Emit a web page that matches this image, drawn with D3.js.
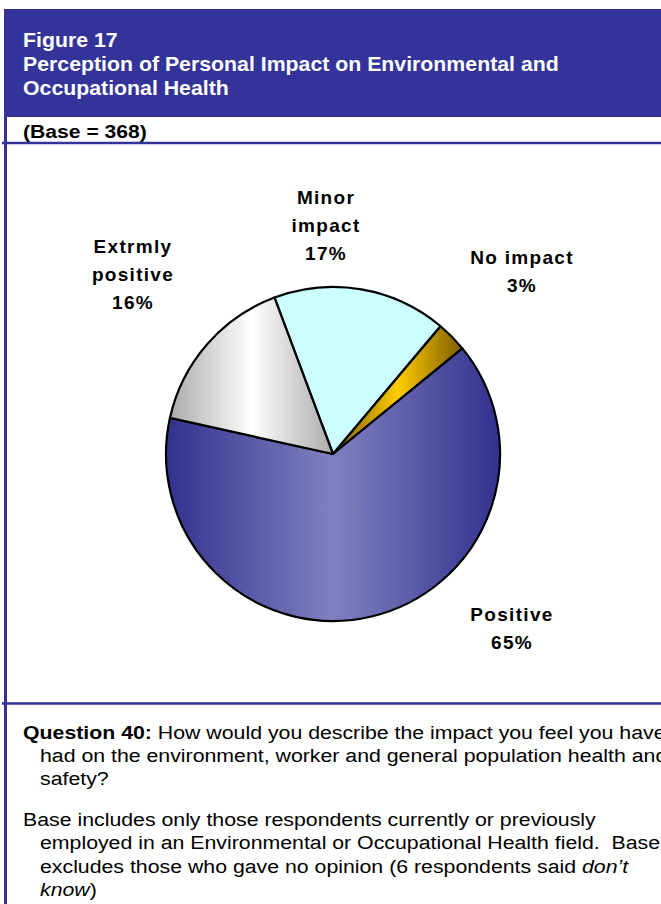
<!DOCTYPE html>
<html>
<head>
<meta charset="utf-8">
<script src="https://cdn.jsdelivr.net/npm/d3@7"></script>
<style>
  body { margin: 0; background: #fff; }
  svg { display: block; font-family: "Liberation Sans", Arial, sans-serif; }
</style>
</head>
<body>
<div id="chart"></div>
<script>
// chart values
const categories = ["Minor impact", "No impact", "Positive", "Extrmly positive"];
const values = [17, 3, 65, 16];
const labelLines = [["Minor", "impact", "17%"], ["No impact", "3%"], ["Positive", "65%"], ["Extrmly", "positive", "16%"]];

const titleLines = ["Figure 17", "Perception of Personal Impact on Environmental and", "Occupational Health"];
const baseText = "(Base = 368)";

const W = 661, H = 904;
const navy = "#333399";

// slice fills: [edge, middle] for horizontal shading
const shades = {
  "Minor impact": ["#CCFFFF", "#CCFFFF"],
  "No impact": ["#7a5c00", "#FFCC00"],
  "Positive": ["#32328f", "#8080C0"],
  "Extrmly positive": ["#ABABAB", "#FFFFFF"]
};

// label placement (text anchors, relative to pie centre)
const labelPos = {
  "Minor impact": [-7, -250],
  "No impact": [189, -190],
  "Positive": [179, 167],
  "Extrmly positive": [-200, -201]
};

const svg = d3.select("#chart").append("svg")
  .attr("width", W)
  .attr("height", H);

const defs = svg.append("defs");
categories.forEach((c, i) => {
  const g = defs.append("linearGradient")
    .attr("id", "grad" + i)
    .attr("x1", 0).attr("x2", 1).attr("y1", 0).attr("y2", 0);
  g.append("stop").attr("offset", 0).attr("stop-color", shades[c][0]);
  g.append("stop").attr("offset", 0.5).attr("stop-color", shades[c][1]);
  g.append("stop").attr("offset", 1).attr("stop-color", shades[c][0]);
});

// stretch a text element horizontally so it spans a target width
function fitScale(sel, target) {
  const w = sel.node().getComputedTextLength();
  return target / w;
}

// header band
svg.append("rect")
  .attr("x", 4).attr("y", 9)
  .attr("width", W - 4).attr("height", 108)
  .attr("fill", navy);

const header = svg.append("g");
const titleTexts = titleLines.map((t, i) => header.append("text")
  .attr("fill", "#fff")
  .attr("font-weight", "bold")
  .attr("font-size", 19.5)
  .text(t));
const hScale = fitScale(titleTexts[1], 536);
titleTexts.forEach((t, i) => t.attr("transform", `translate(23,${47 + i * 24}) scale(${hScale},1)`));

const baseT = svg.append("text")
  .attr("font-weight", "bold")
  .attr("font-size", 19)
  .text(baseText);
baseT.attr("transform", `translate(23,137.5) scale(${fitScale(baseT, 124)},1)`);

// frame lines
svg.append("line")
  .attr("x1", 2).attr("x2", W).attr("y1", 143).attr("y2", 143)
  .attr("stroke", navy).attr("stroke-width", 2.5);
svg.append("line")
  .attr("x1", 2).attr("x2", W).attr("y1", 703.5).attr("y2", 703.5)
  .attr("stroke", navy).attr("stroke-width", 2.5);
svg.append("line")
  .attr("x1", 5.5).attr("x2", 5.5).attr("y1", 10).attr("y2", H)
  .attr("stroke", navy).attr("stroke-width", 3);

// pie
const cx = 333, cy = 454, r = 167;
const startAngle = -20.5 * Math.PI / 180;

const pie = d3.pie()
  .sort(null)
  .value(d => d.value)
  .startAngle(startAngle)
  .endAngle(startAngle + 2 * Math.PI);

const data = categories.map((c, i) => ({ name: c, value: values[i], idx: i }));
const arcs = pie(data);
const arc = d3.arc().innerRadius(0).outerRadius(r);

const pieG = svg.append("g").attr("transform", `translate(${cx},${cy})`);

pieG.selectAll("path.slice")
  .data(arcs)
  .join("path")
  .attr("class", "slice")
  .attr("d", arc)
  .attr("fill", d => `url(#grad${d.data.idx})`)
  .attr("stroke", "#000")
  .attr("stroke-width", 2.2)
  .attr("stroke-linejoin", "round");

// labels
arcs.forEach((d, i) => {
  const [lx, ly] = labelPos[d.data.name];
  const t = pieG.append("text")
    .attr("text-anchor", "middle")
    .attr("font-weight", "bold")
    .attr("font-size", 19)
    .attr("letter-spacing", 1.3)
    .attr("fill", "#000");
  labelLines[i].forEach((ln, j) => {
    t.append("tspan")
      .attr("x", lx)
      .attr("y", ly + j * 28)
      .text(ln);
  });
});

// footnote text
const body = [
  { x: 23, y: 739, parts: [["Question 40:", "bold"], [" How would you describe the impact you feel you have", ""]] },
  { x: 40, y: 762, parts: [["had on the environment, worker and general population health and", ""]] },
  { x: 40, y: 785, parts: [["safety?", ""]] },
  { x: 23, y: 826, parts: [["Base includes only those respondents currently or previously", ""]] },
  { x: 40, y: 849, parts: [["employed in an Environmental or Occupational Health field.  Base", ""]] },
  { x: 40, y: 873, parts: [["excludes those who gave no opinion (6 respondents said ", ""], ["don\u2019t", "italic"]] },
  { x: 40, y: 896, parts: [["know", "italic"], [")", ""]] }
];

const bodyTexts = body.map(b => {
  const t = svg.append("text")
    .attr("font-size", 19)
    .attr("fill", "#000")
    .attr("xml:space", "preserve")
    .style("white-space", "pre");
  b.parts.forEach(p => {
    t.append("tspan")
      .attr("font-weight", p[1] === "bold" ? "bold" : null)
      .attr("font-style", p[1] === "italic" ? "italic" : null)
      .text(p[0]);
  });
  return t;
});
const bScale = fitScale(bodyTexts[3], 573);
bodyTexts.forEach((t, i) => t.attr("transform", `translate(${body[i].x},${body[i].y}) scale(${bScale},1)`));
</script>
</body>
</html>
